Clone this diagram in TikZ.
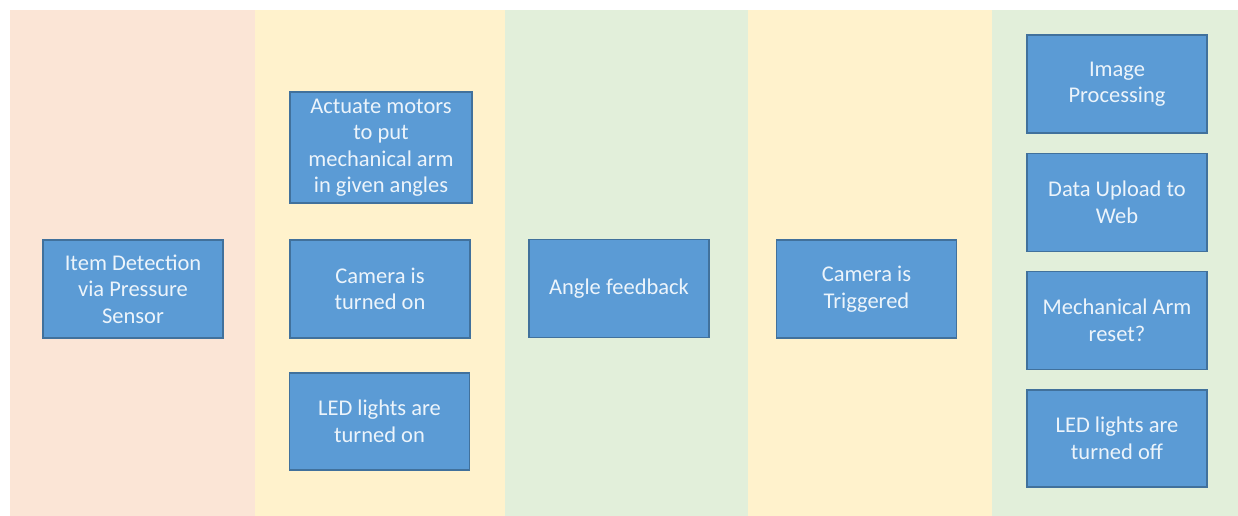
\documentclass[tikz,border=0pt]{standalone}
\usepackage{fontspec}
\setmainfont{Carlito}
\definecolor{lanePink}{RGB}{251,229,214}
\definecolor{laneYellow}{RGB}{255,242,204}
\definecolor{laneGreen}{RGB}{226,239,218}
\definecolor{boxFill}{RGB}{91,155,213}
\definecolor{boxLine}{RGB}{65,113,156}
\definecolor{boxText}{RGB}{236,244,251}
\begin{document}
\begin{tikzpicture}[x=1pt,y=-1pt,
  stepbox/.style={draw=boxLine, fill=boxFill, line width=1.1pt, text=boxText,
    minimum width=180pt, minimum height=98pt, inner sep=0pt, align=center,
    font=\fontsize{22.5}{26.5}\selectfont}]
  % canvas
  \fill[white] (0,0) rectangle (1238,516);
  \useasboundingbox (0,0) rectangle (1238,516);
  % stage lanes
  \fill[lanePink]   (10,10)   rectangle (255,516);
  \fill[laneYellow] (255,10)  rectangle (505,516);
  \fill[laneGreen]  (505,10)  rectangle (748,516);
  \fill[laneYellow] (748,10)  rectangle (992,516);
  \fill[laneGreen]  (992,10)  rectangle (1238,516);
  % stage 1
  \node[stepbox] (detect) at (133,289) {Item Detection\\via Pressure\\Sensor};
  % stage 2
  \node[stepbox, minimum width=182pt, minimum height=111pt] (motors) at (381,147.5)
    {Actuate motors\\to put\\mechanical arm\\in given angles};
  \node[stepbox] (camon) at (380,289) {Camera is\\turned on};
  \node[stepbox, minimum height=97pt] (ledon) at (379.5,421.5) {LED lights are\\turned on};
  % stage 3
  \node[stepbox] (angle) at (619,288.5) {Angle feedback};
  % stage 4
  \node[stepbox] (trigger) at (866.5,289) {Camera is\\Triggered};
  % stage 5
  \node[stepbox] (image) at (1117,84) {Image\\Processing};
  \node[stepbox] (upload) at (1117,202.5) {Data Upload to\\Web};
  \node[stepbox] (reset) at (1117,320.5) {Mechanical Arm\\reset?};
  \node[stepbox, minimum height=97pt] (ledoff) at (1117,438.5) {LED lights are\\turned off};
\end{tikzpicture}
\end{document}
